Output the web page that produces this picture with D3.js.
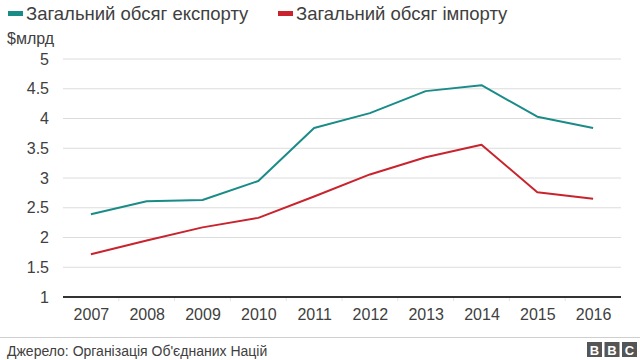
<!DOCTYPE html>
<html>
<head>
<meta charset="utf-8">
<script src="https://cdn.jsdelivr.net/npm/d3@7/dist/d3.min.js"></script>
<style>
  body { margin: 0; background: #fff; }
  svg { display: block; font-family: "Liberation Sans", Arial, Helvetica, sans-serif; }
</style>
</head>
<body>
<svg id="chart" width="640" height="360"></svg>
<script>
const years = ["2007","2008","2009","2010","2011","2012","2013","2014","2015","2016"];
const exportValues = [2.39, 2.61, 2.63, 2.95, 3.84, 4.09, 4.46, 4.56, 4.03, 3.84];
const importValues = [1.72, 1.95, 2.17, 2.33, 2.69, 3.06, 3.35, 3.56, 2.76, 2.65];
const yTicks = [1, 1.5, 2, 2.5, 3, 3.5, 4, 4.5, 5];
const seriesNames = ["Загальний обсяг експорту", "Загальний обсяг імпорту"];
const seriesColors = ["#1a8c88", "#c9232d"];
const unitLabel = "$млрд";
const sourceText = "Джерело: Організація Об'єднаних Націй";

const svg = d3.select("#chart");
const plotLeft = 63, plotRight = 621, plotTop = 59, plotBottom = 297;

const x = d3.scalePoint().domain(years).range([plotLeft, plotRight]).padding(0.5);
const xBand = d3.scaleBand().domain(years).range([plotLeft, plotRight]);
const y = d3.scaleLinear().domain([1, 5]).range([plotBottom, plotTop]);

// gridlines
svg.append("g")
  .selectAll("line")
  .data(yTicks.filter(d => d !== 1))
  .join("line")
  .attr("x1", plotLeft).attr("x2", plotRight)
  .attr("y1", d => y(d)).attr("y2", d => y(d))
  .attr("stroke", "#dcdcdc").attr("stroke-width", 1);

// y tick labels
svg.append("g")
  .selectAll("text")
  .data(yTicks)
  .join("text")
  .attr("x", 49).attr("y", d => y(d))
  .attr("dy", "0.35em")
  .attr("text-anchor", "end")
  .attr("font-size", 16)
  .attr("fill", "#404040")
  .text(d => d3.format("~g")(d));

// unit label
svg.append("text")
  .attr("x", 7).attr("y", 44)
  .attr("font-size", 16)
  .attr("fill", "#404040")
  .text(unitLabel);

// x-axis
const xAxis = d3.axisBottom(x).tickSize(0).tickPadding(8);
const gx = svg.append("g").attr("transform", `translate(0,${plotBottom})`).call(xAxis);
gx.select(".domain").remove();
gx.selectAll("text").attr("font-size", 16).attr("fill", "#404040")
  .attr("font-family", "Liberation Sans, Arial, sans-serif").attr("dy", "0.95em");

// small band separators
svg.append("g").selectAll("line")
  .data(years.slice(1))
  .join("line")
  .attr("x1", d => xBand(d)).attr("x2", d => xBand(d))
  .attr("y1", plotBottom).attr("y2", plotBottom + 4)
  .attr("stroke", "#e4e4e4").attr("stroke-width", 1);

// baseline
svg.append("line")
  .attr("x1", plotLeft).attr("x2", plotRight)
  .attr("y1", y(1)).attr("y2", y(1))
  .attr("stroke", "#333").attr("stroke-width", 2);

// lines
const line = d3.line().x((d, i) => x(years[i])).y(d => y(d));
[exportValues, importValues].forEach((vals, k) => {
  svg.append("path")
    .datum(vals)
    .attr("d", line)
    .attr("fill", "none")
    .attr("stroke", seriesColors[k])
    .attr("stroke-width", 2)
    .attr("stroke-linejoin", "round");
});

// legend
const legendX = [8, 278];
seriesNames.forEach((name, k) => {
  svg.append("rect")
    .attr("x", legendX[k]).attr("y", 11)
    .attr("width", 15).attr("height", 5)
    .attr("fill", seriesColors[k]);
  svg.append("text")
    .attr("x", legendX[k] + 18).attr("y", 20)
    .attr("font-size", 18.5)
    .attr("fill", "#404040")
    .text(name);
});

// footer
svg.append("line")
  .attr("x1", 0).attr("x2", 640).attr("y1", 337.5).attr("y2", 337.5)
  .attr("stroke", "#cfcfcf").attr("stroke-width", 1);
svg.append("text")
  .attr("x", 7).attr("y", 356)
  .attr("font-size", 14)
  .attr("fill", "#404040")
  .text(sourceText);

// BBC logo
const logo = ["B", "B", "C"];
const lg = svg.append("g");
logo.forEach((ch, i) => {
  const bx = 587 + i * 17.5;
  lg.append("rect").attr("x", bx).attr("y", 342).attr("width", 15).attr("height", 15).attr("fill", "#555");
  lg.append("text").attr("x", bx + 7.5).attr("y", 354.5)
    .attr("text-anchor", "middle").attr("font-size", 13).attr("font-weight", "bold")
    .attr("fill", "#fff").text(ch);
});
</script>
</body>
</html>
